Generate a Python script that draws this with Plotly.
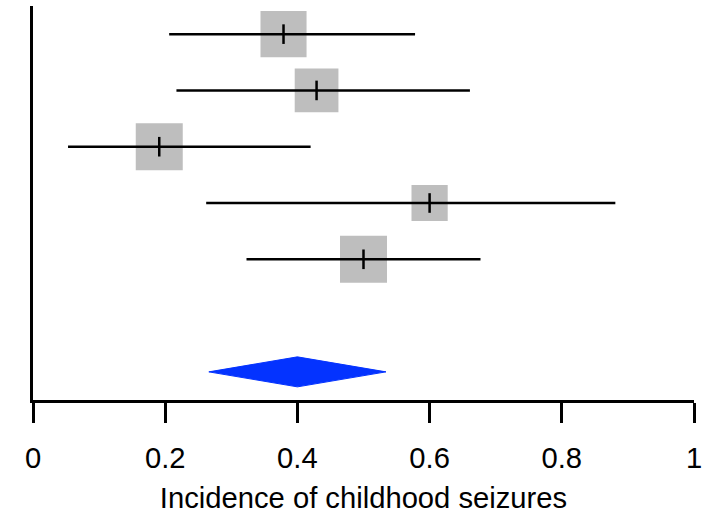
import plotly.graph_objects as go

# ---- data ----
studies = ["Study 1", "Study 2", "Study 3", "Study 4", "Study 5"]
estimates = [0.379, 0.429, 0.191, 0.600, 0.500]
ci_lower = [0.206, 0.217, 0.053, 0.262, 0.323]
ci_upper = [0.578, 0.661, 0.420, 0.881, 0.677]
rel_weights = [0.98, 0.93, 1.00, 0.77, 1.00]
pooled_est = 0.400
pooled_lower = 0.266
pooled_upper = 0.534
x_ticks = [0, 0.2, 0.4, 0.6, 0.8, 1]
x_tick_labels = ["0", "0.2", "0.4", "0.6", "0.8", "1"]
x_title = "Incidence of childhood seizures"

# ---- layout geometry ----
W, H = 708, 517
m_l, m_r, m_t, m_b = 33, 12, 6, 117
n = len(studies)
y_rows = [n + 2 - i for i in range(n)]
y_pool = 1
y_range = [0.5, n + 2.5]
plot_h = H - m_t - m_b
px_per_y = plot_h / (y_range[1] - y_range[0])
max_box = 47
diamond_half = 15 / px_per_y
LW = 2.5
FS = 29.2

FONT = "Liberation Sans, Arial, Helvetica, sans-serif"

fig = go.Figure()

# CI line coordinates
xs, ys = [], []
for lo, hi, y in zip(ci_lower, ci_upper, y_rows):
    xs += [lo, hi, None]
    ys += [y, y, None]

# boxes
fig.add_trace(go.Scatter(x=estimates, y=y_rows, mode="markers",
                         marker=dict(symbol="square", color="#BEBEBE", opacity=1,
                                     size=[w * max_box for w in rel_weights],
                                     line=dict(width=0)),
                         text=studies, showlegend=False))

# CI lines on top of boxes
fig.add_trace(go.Scatter(x=xs, y=ys, mode="lines",
                         line=dict(color="black", width=LW),
                         hoverinfo="skip", showlegend=False))

# point estimate ticks
fig.add_trace(go.Scatter(x=estimates, y=y_rows, mode="markers",
                         marker=dict(symbol="line-ns", size=14,
                                     line=dict(color="black", width=LW)),
                         hoverinfo="skip", showlegend=False))

# pooled diamond
fig.add_trace(go.Scatter(
    x=[pooled_lower, pooled_est, pooled_upper, pooled_est, pooled_lower],
    y=[y_pool, y_pool + diamond_half, y_pool, y_pool - diamond_half, y_pool],
    mode="lines", fill="toself", fillcolor="#0433FF",
    line=dict(color="#0433FF", width=1), showlegend=False))

fig.update_layout(
    width=W, height=H,
    margin=dict(l=m_l, r=m_r, t=m_t, b=m_b),
    plot_bgcolor="white", paper_bgcolor="white",
    font=dict(family=FONT, size=FS, color="black"),
    xaxis=dict(range=[0, 1], tickvals=x_ticks, ticktext=x_tick_labels,
               showgrid=False, zeroline=False,
               showline=True, linecolor="black", linewidth=LW,
               ticks="outside", ticklen=20, tickwidth=LW, tickcolor="black",
               ticklabelstandoff=10,
               tickfont=dict(size=FS, family=FONT),
               title=dict(text=x_title, font=dict(size=FS, family=FONT), standoff=15)),
    yaxis=dict(range=y_range, showgrid=False, zeroline=False,
               showline=True, linecolor="black", linewidth=LW,
               showticklabels=False, ticks=""),
)

fig.write_html("out.html", config={"displayModeBar": False},
               post_script="document.body.style.margin='0';")
